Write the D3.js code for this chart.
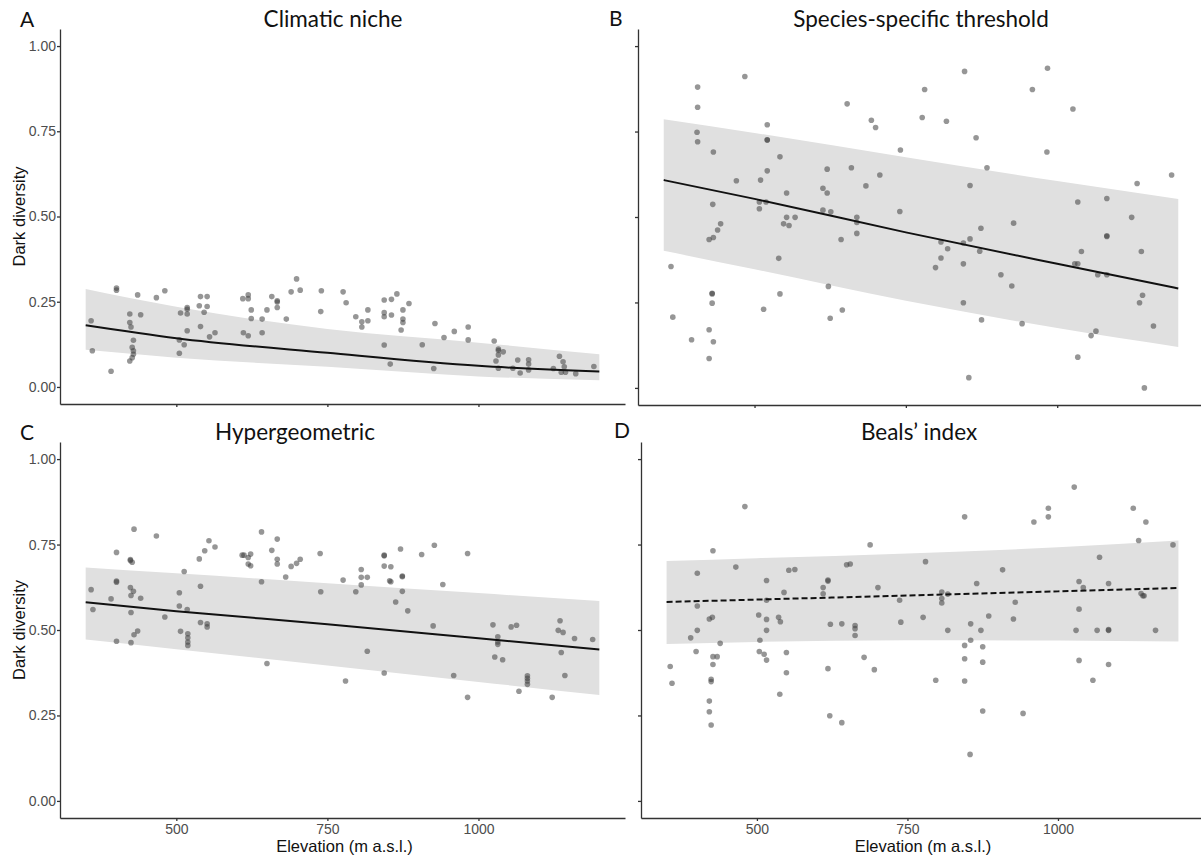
<!DOCTYPE html>
<html>
<head>
<meta charset="utf-8"/>
<title>Dark diversity along elevation</title>
<script src="https://d3js.org/d3.v7.min.js"></script>
<style>
html, body {
    margin: 0;
    padding: 0;
    background: #fff;
}
svg { display: block; }
.axis path, .axis line {
    stroke: #333;
    stroke-width: 1.3;
}
.axis text {
    font-family: "Liberation Sans", Arial, sans-serif;
    font-size: 14px;
    fill: #4d4d4d;
}
.ptitle {
    font-family: Lato, "Open Sans", sans-serif;
    font-size: 22.5px;
    fill: #111;
}
.pletter {
    font-family: Lato, "Open Sans", sans-serif;
    font-size: 21px;
    fill: #111;
}
.atitle {
    font-family: "Liberation Sans", Arial, sans-serif;
    font-size: 16.5px;
    fill: #111;
}
</style>
</head>
<body>
<svg id="chart" width="1201" height="857"></svg>
<script>

// Axis ticks.
const xTicks = [500, 750, 1000];
const yTicks = [0, 0.25, 0.5, 0.75, 1];
const yTickLabels = ["0.00", "0.25", "0.50", "0.75", "1.00"];

// Fitted curve, read at these elevations.
const fitElev = [350, 500, 750, 1000, 1200];

// A: Climatic niche
const fitA = [0.181, 0.143, 0.100, 0.062, 0.045];
const loA  = [0.109, 0.086, 0.059, 0.031, 0.020];
const hiA  = [0.287, 0.235, 0.170, 0.130, 0.096];
const ptsA = [
    [359,0.194],[361,0.106],[392,0.046],[401,0.290],[401,0.284],[436,0.270],[423,0.214],[423,0.189],
    [425,0.176],[429,0.137],[427,0.116],[429,0.106],[429,0.096],[427,0.086],[423,0.076],[441,0.212],
    [467,0.262],[481,0.282],[507,0.217],[505,0.138],[505,0.099],[513,0.124],[518,0.233],[518,0.228],
    [518,0.214],[518,0.165],[538,0.238],[540,0.265],[551,0.265],[551,0.236],[546,0.219],[540,0.177],
    [555,0.147],[564,0.159],[610,0.259],[619,0.270],[619,0.259],[624,0.226],[624,0.201],[611,0.159],
    [619,0.150],[642,0.159],[642,0.199],[650,0.226],[658,0.265],[667,0.253],[667,0.249],[667,0.233],
    [682,0.199],[690,0.279],[699,0.317],[705,0.284],[740,0.282],[739,0.221],[776,0.279],[781,0.247],
    [797,0.206],[807,0.191],[807,0.176],[817,0.226],[817,0.194],[844,0.255],[856,0.257],[865,0.273],
    [844,0.218],[844,0.206],[856,0.211],[875,0.226],[875,0.199],[875,0.189],[885,0.245],[872,0.167],
    [844,0.123],[854,0.067],[907,0.124],[928,0.186],[943,0.145],[926,0.054],[960,0.163],[983,0.176],
    [983,0.138],[1026,0.135],[1033,0.111],[1033,0.107],[1041,0.103],[1033,0.094],[1029,0.076],[1033,0.055],
    [1057,0.055],[1065,0.079],[1069,0.041],[1083,0.080],[1083,0.067],[1083,0.050],[1124,0.054],[1134,0.090],
    [1140,0.074],[1142,0.059],[1137,0.043],[1144,0.043],[1161,0.039],[1191,0.060]
];

// B: Species-specific threshold
const fitB = [0.608, 0.553, 0.455, 0.363, 0.291];
const loB  = [0.401, 0.347, 0.255, 0.175, 0.120];
const hiB  = [0.786, 0.746, 0.675, 0.605, 0.553];
const ptsB = [
    [484,0.911],[406,0.880],[406,0.821],[405,0.748],[406,0.720],[432,0.690],[362,0.355],[365,0.207],
    [396,0.141],[425,0.170],[432,0.135],[425,0.086],[430,0.277],[430,0.275],[430,0.248],[431,0.537],
    [425,0.434],[432,0.440],[439,0.462],[444,0.480],[470,0.606],[510,0.608],[508,0.544],[508,0.524],
    [519,0.544],[521,0.770],[521,0.725],[521,0.726],[521,0.635],[542,0.676],[553,0.570],[553,0.499],
    [548,0.480],[557,0.475],[567,0.499],[540,0.379],[542,0.275],[515,0.230],[613,0.584],[620,0.570],
    [620,0.640],[613,0.520],[626,0.515],[622,0.297],[625,0.204],[645,0.228],[643,0.434],[660,0.644],
    [653,0.831],[669,0.499],[669,0.484],[669,0.452],[684,0.591],[693,0.783],[700,0.762],[707,0.623],
    [740,0.516],[741,0.696],[781,0.873],[777,0.791],[817,0.780],[847,0.926],[866,0.732],[884,0.644],
    [856,0.592],[874,0.467],[856,0.436],[845,0.424],[808,0.427],[819,0.407],[808,0.380],[799,0.352],
    [845,0.363],[872,0.400],[845,0.249],[875,0.199],[854,0.030],[907,0.331],[925,0.298],[928,0.482],
    [942,0.188],[959,0.873],[984,0.935],[983,0.690],[1026,0.816],[1034,0.544],[1040,0.399],[1029,0.363],
    [1034,0.363],[1034,0.090],[1056,0.153],[1064,0.166],[1067,0.331],[1082,0.331],[1082,0.443],[1082,0.445],
    [1082,0.554],[1123,0.499],[1132,0.598],[1139,0.399],[1141,0.271],[1136,0.249],[1159,0.181],[1144,0.000],
    [1189,0.623]
];

// C: Hypergeometric
const fitC = [0.581, 0.555, 0.517, 0.476, 0.443];
const loC  = [0.472, 0.444, 0.396, 0.348, 0.310];
const hiC  = [0.683, 0.666, 0.637, 0.608, 0.585];
const ptsC = [
    [359,0.618],[362,0.560],[392,0.591],[401,0.727],[401,0.640],[401,0.643],[401,0.467],[424,0.706],
    [424,0.703],[427,0.698],[430,0.795],[424,0.624],[429,0.613],[425,0.601],[441,0.593],[425,0.551],
    [430,0.486],[436,0.497],[425,0.463],[467,0.775],[481,0.538],[513,0.671],[505,0.609],[505,0.570],
    [518,0.560],[507,0.496],[519,0.489],[519,0.477],[519,0.465],[519,0.455],[540,0.628],[540,0.522],
    [551,0.518],[551,0.509],[538,0.708],[547,0.732],[554,0.761],[564,0.743],[609,0.719],[612,0.719],
    [619,0.712],[623,0.722],[619,0.693],[623,0.688],[641,0.787],[641,0.641],[650,0.402],[658,0.733],
    [667,0.766],[667,0.707],[667,0.693],[681,0.655],[690,0.686],[699,0.695],[705,0.707],[738,0.724],
    [739,0.612],[776,0.646],[780,0.351],[797,0.612],[806,0.677],[806,0.654],[806,0.632],[816,0.654],
    [816,0.438],[844,0.719],[844,0.717],[844,0.687],[855,0.685],[853,0.644],[855,0.641],[844,0.374],
    [863,0.582],[871,0.737],[874,0.658],[874,0.656],[874,0.613],[883,0.556],[906,0.721],[927,0.748],
    [941,0.633],[925,0.512],[959,0.367],[982,0.724],[982,0.303],[1024,0.515],[1027,0.421],[1040,0.413],
    [1032,0.480],[1032,0.465],[1032,0.458],[1054,0.509],[1063,0.514],[1067,0.321],[1081,0.366],[1081,0.359],
    [1081,0.351],[1081,0.341],[1122,0.303],[1135,0.527],[1132,0.499],[1140,0.493],[1137,0.434],[1143,0.367],
    [1159,0.475],[1189,0.472]
];

// D: Beals' index
const fitD = [0.582, 0.589, 0.601, 0.613, 0.623];
const loD  = [0.459, 0.465, 0.470, 0.469, 0.466];
const hiD  = [0.702, 0.710, 0.724, 0.742, 0.762];
const ptsD = [
    [356,0.393],[359,0.344],[390,0.477],[401,0.666],[401,0.570],[401,0.499],[399,0.437],[427,0.732],
    [421,0.532],[426,0.537],[439,0.461],[427,0.422],[434,0.422],[427,0.399],[424,0.356],[424,0.349],
    [421,0.292],[421,0.261],[424,0.222],[465,0.684],[480,0.861],[503,0.544],[505,0.470],[504,0.437],
    [512,0.429],[516,0.412],[516,0.531],[516,0.499],[516,0.645],[516,0.587],[545,0.610],[536,0.537],
    [539,0.524],[553,0.675],[563,0.677],[549,0.434],[549,0.375],[538,0.312],[610,0.624],[610,0.606],
    [618,0.643],[618,0.646],[622,0.517],[641,0.518],[618,0.387],[621,0.249],[641,0.229],[649,0.691],
    [655,0.693],[663,0.513],[663,0.504],[663,0.484],[678,0.420],[688,0.749],[701,0.624],[695,0.384],
    [737,0.587],[739,0.523],[780,0.700],[776,0.537],[797,0.353],[807,0.611],[807,0.592],[807,0.579],
    [817,0.605],[817,0.499],[845,0.831],[865,0.636],[855,0.518],[855,0.470],[845,0.455],[845,0.416],
    [845,0.351],[872,0.499],[875,0.451],[875,0.406],[875,0.263],[854,0.136],[885,0.541],[908,0.676],
    [929,0.581],[926,0.532],[942,0.256],[960,0.816],[984,0.856],[984,0.831],[1027,0.918],[1035,0.642],
    [1042,0.624],[1035,0.561],[1030,0.499],[1035,0.411],[1058,0.353],[1065,0.499],[1069,0.713],[1084,0.636],
    [1084,0.499],[1084,0.501],[1084,0.399],[1125,0.856],[1134,0.762],[1146,0.816],[1138,0.607],[1141,0.600],
    [1143,0.600],[1162,0.499],[1191,0.749]
];

const panels = [
    {letter: "A", title: "Climatic niche", pts: ptsA, fit: fitA, lo: loA, hi: hiA, dashed: false,
     box: {x0: 60, x1: 625, y0: 29, y1: 404}, xLabels: false, yLabels: true,
     titleX: 333, titleY: 27, letterX: 20, letterY: 27},
    {letter: "B", title: "Species-specific threshold", pts: ptsB, fit: fitB, lo: loB, hi: hiB, dashed: false,
     box: {x0: 638, x1: 1204, y0: 29, y1: 405}, xLabels: false, yLabels: false,
     titleX: 921, titleY: 27, letterX: 609, letterY: 26},
    {letter: "C", title: "Hypergeometric", pts: ptsC, fit: fitC, lo: loC, hi: hiC, dashed: false,
     box: {x0: 60, x1: 625, y0: 442, y1: 818}, xLabels: true, yLabels: true,
     titleX: 295, titleY: 440, letterX: 20, letterY: 440},
    {letter: "D", title: "Beals\u2019 index", pts: ptsD, fit: fitD, lo: loD, hi: hiD, dashed: true,
     box: {x0: 641, x1: 1204, y0: 442, y1: 818}, xLabels: true, yLabels: false,
     titleX: 919, titleY: 440, letterX: 614, letterY: 438}
];

const svg = d3.select("#chart");
svg.append("rect").attr("width", 1201).attr("height", 857).attr("fill", "#fff");

panels.forEach(function(p) {
    const b = p.box;
    const x = d3.scaleLinear().domain([307.5, 1242.5]).range([b.x0, b.x1]);
    const y = d3.scaleLinear().domain([-0.05, 1.05]).range([b.y1, b.y0]);
    const g = svg.append("g");

    // Confidence band.
    const band = d3.area()
        .x(function(d, i) { return x(fitElev[i]); })
        .y0(function(d, i) { return y(p.lo[i]); })
        .y1(function(d, i) { return y(p.hi[i]); })
        .curve(d3.curveMonotoneX);
    g.append("path")
        .attr("d", band(fitElev))
        .attr("fill", "#e0e0e0");

    // Points.
    g.selectAll("circle")
        .data(p.pts)
        .enter().append("circle")
        .attr("cx", d => x(d[0]))
        .attr("cy", d => y(d[1]))
        .attr("r", 2.8)
        .attr("fill", "#404040")
        .attr("fill-opacity", 0.55);

    // Fitted line.
    const fitLine = d3.line()
        .x(function(d, i) { return x(fitElev[i]); })
        .y(function(d) { return y(d); })
        .curve(d3.curveMonotoneX);
    g.append("path")
        .attr("d", fitLine(p.fit))
        .attr("fill", "none")
        .attr("stroke", "#111")
        .attr("stroke-width", 2)
        .attr("stroke-dasharray", p.dashed ? "6,3" : null);

    // Axes.
    const xAxis = d3.axisBottom(x).tickValues(xTicks).tickSize(3).tickSizeOuter(0).tickPadding(3)
        .tickFormat(p.xLabels ? d3.format("d") : "");
    g.append("g").attr("class", "axis")
        .attr("transform", "translate(0," + b.y1 + ")")
        .call(xAxis);

    const yAxis = d3.axisLeft(y).tickValues(yTicks).tickSize(3).tickSizeOuter(0).tickPadding(1)
        .tickFormat(p.yLabels ? (d, i) => yTickLabels[i] : "");
    g.append("g").attr("class", "axis")
        .attr("transform", "translate(" + b.x0 + ",0)")
        .call(yAxis);

    // Titles.
    g.append("text").attr("class", "ptitle")
        .attr("x", p.titleX).attr("y", p.titleY)
        .attr("text-anchor", "middle")
        .text(p.title);
    g.append("text").attr("class", "pletter")
        .attr("x", p.letterX).attr("y", p.letterY)
        .text(p.letter);

    if (p.yLabels) {
        g.append("text").attr("class", "atitle")
            .attr("transform", "translate(25," + ((b.y0 + b.y1) / 2) + ") rotate(-90)")
            .attr("text-anchor", "middle")
            .text("Dark diversity");
    }
    if (p.xLabels) {
        g.append("text").attr("class", "atitle")
            .attr("x", (b.x0 + Math.min(b.x1, 1201)) / 2 + 2).attr("y", 852)
            .attr("text-anchor", "middle")
            .text("Elevation (m a.s.l.)");
    }
});

</script>
</body>
</html>
